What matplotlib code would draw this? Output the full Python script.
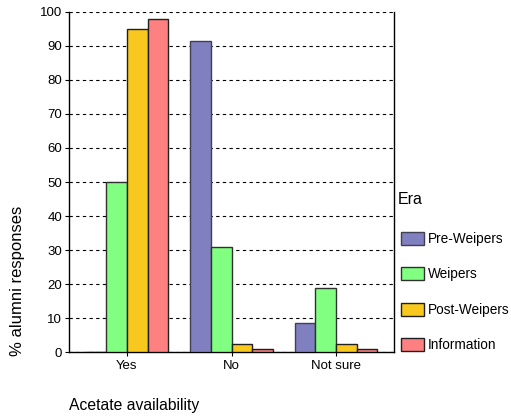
import numpy as np
import matplotlib.pyplot as plt

plt.rcParams["font.family"] = ["Liberation Sans", "DejaVu Sans"]

categories = ["Yes", "No", "Not sure"]
eras = ["Pre-Weipers", "Weipers", "Post-Weipers", "Information"]
pre_weipers = [0, 91.5, 8.4]
weipers = [50, 31, 18.8]
post_weipers = [95.1, 2.3, 2.3]
information = [98, 0.8, 0.8]
yticks = [0, 10, 20, 30, 40, 50, 60, 70, 80, 90, 100]

colors = ["#8080C0", "#80FF80", "#F8C81E", "#FF8080"]
edges = ["#404050", "#303030", "#202020", "#202020"]


def plot_chart():
    fig = plt.figure(figsize=(5.11, 4.19), dpi=100)
    ax = fig.add_axes([69 / 511, 1 - 352 / 419, 325 / 511, 340 / 419])

    x = np.arange(len(categories))
    width = 0.198
    series = [pre_weipers, weipers, post_weipers, information]
    for i, (name, vals) in enumerate(zip(eras, series)):
        ax.bar(x + (i - 1.5) * width, vals, width=width, color=colors[i],
               edgecolor=edges[i], linewidth=1.0, label=name, zorder=3)

    ax.set_xlim(-0.555, 2.555)
    ax.set_ylim(0, 100)
    ax.set_yticks(yticks)
    ax.set_xticks(x)
    ax.set_xticklabels(categories)
    ax.tick_params(axis="both", labelsize=9.5, length=3, width=0.8, colors="black")
    ax.tick_params(axis="x", pad=3)
    ax.tick_params(axis="y", pad=2)
    ax.yaxis.grid(True, linestyle=(0, (3, 3)), color="black", linewidth=0.8)
    ax.set_axisbelow(True)
    ax.spines["top"].set_visible(False)
    for s in ["left", "bottom", "right"]:
        ax.spines[s].set_linewidth(1.0)

    fig.text(18 / 511, 1 - 281 / 419, "% alumni responses", rotation=90,
             ha="center", va="center", fontsize=12)
    fig.text(69 / 511, 1 - 405 / 419, "Acetate availability", ha="left",
             va="center", fontsize=11.3)
    fig.text(398 / 511, 1 - 200 / 419, "Era", ha="left", va="center",
             fontsize=11.5)

    ax.legend(loc="upper left", bbox_to_anchor=(401 / 511, 1 - 232 / 419),
              bbox_transform=fig.transFigure, frameon=False,
              fontsize=9.8, handlelength=1.7, handleheight=1.1,
              labelspacing=1.55, handletextpad=0.3,
              borderaxespad=0, borderpad=0)

    fig.savefig("out.png", dpi=100)


def main():
    plot_chart()


if __name__ == "__main__":
    main()
